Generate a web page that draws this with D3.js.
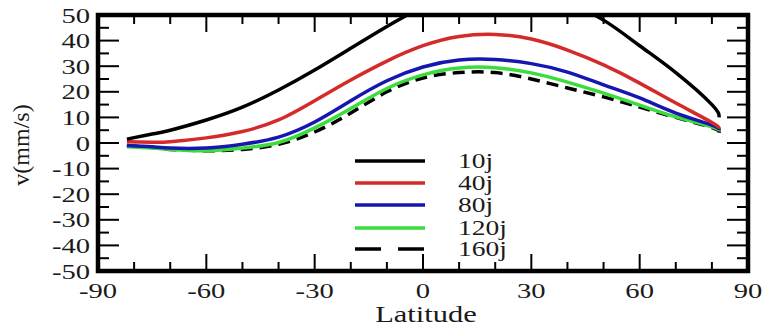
<!DOCTYPE html>
<html>
<head>
<meta charset="utf-8">
<script src="https://cdn.jsdelivr.net/npm/d3@7"></script>
</head>
<body style="margin:0">
<svg id="chart" width="767" height="328"></svg>
<script>
// data
const latitude = [-82, -75, -70, -60, -50, -40, -30, -20, -10, 0, 10, 20, 30, 40, 50, 60, 70, 80, 82];
const v10 = [1.5, 3.5, 5, 9, 14, 20.7, 28.5, 37, 45.5, 53, 57.5, 59, 58, 54.5, 48, 38, 27.5, 15, 10];
const v40 = [0.5, 0.3, 0.5, 2, 4.5, 9, 16.5, 24.6, 32, 38, 41.6, 42.4, 40.6, 36.3, 30.5, 23.4, 15.6, 8, 5.5];
const v80 = [-1, -1.5, -2, -2, -0.5, 2.3, 8.2, 16.5, 24.3, 29.7, 32.4, 32.6, 31, 27.7, 22.7, 17.6, 11.7, 7, 5];
const v120 = [-1.5, -2, -2.5, -3, -2, 0.2, 5.9, 13.5, 21.3, 26.6, 29.3, 29.4, 27.4, 23.8, 19.5, 14.8, 10.2, 6.3, 4.5];
const v160 = [-1, -1.8, -2.5, -3, -2.5, -0.5, 4.3, 11.7, 20, 25.4, 27.5, 27.5, 25, 21.5, 18, 14, 10, 6, 4];
const seriesNames = ["10j", "40j", "80j", "120j", "160j"];
const xTicks = [-90, -60, -30, 0, 30, 60, 90];
const yTicks = [50, 40, 30, 20, 10, 0, -10, -20, -30, -40, -50];

const series = [
  { name: seriesNames[0], values: v10, color: "#000000", dash: null },
  { name: seriesNames[1], values: v40, color: "#d42a2a", dash: null },
  { name: seriesNames[2], values: v80, color: "#1616b0", dash: null },
  { name: seriesNames[3], values: v120, color: "#3cdc3c", dash: null },
  { name: seriesNames[4], values: v160, color: "#000000", dash: "12,7" }
];

const svg = d3.select("#chart");

const x = d3.scaleLinear().domain([-90, 90]).range([98, 748]);
const y = d3.scaleLinear().domain([-50, 50]).range([271, 15]);

// the source image is stretched sideways, so its text is too
function label(px, py, str, anchor, size, sx) {
  return svg.append("text")
    .attr("transform", "translate(" + px + "," + py + ") scale(" + sx + ",1)")
    .attr("text-anchor", anchor)
    .attr("fill", "#1a1a1a")
    .style("font-family", "'Liberation Serif'")
    .style("font-size", size + "px")
    .text(str);
}

svg.append("clipPath").attr("id", "plot-clip")
  .append("rect")
  .attr("x", x(-90)).attr("y", y(50))
  .attr("width", x(90) - x(-90)).attr("height", y(-50) - y(50));

// curves
const line = d3.line()
  .x((d, i) => x(latitude[i]))
  .y(d => y(d))
  .curve(d3.curveNatural);

const curves = svg.append("g").attr("clip-path", "url(#plot-clip)");
curves.selectAll("path")
  .data(series.slice().reverse())
  .enter()
  .append("path")
  .attr("d", d => line(d.values))
  .attr("fill", "none")
  .attr("stroke", d => d.color)
  .attr("stroke-width", 3.5)
  .attr("stroke-dasharray", d => d.dash);

// ticks: major/minor on all four sides
const ticks = svg.append("g").attr("stroke", "#000").attr("stroke-width", 2);
d3.range(-80, 90, 10).forEach(t => {
  const len = t % 30 === 0 ? 17 : 9;
  ticks.append("line").attr("x1", x(t)).attr("x2", x(t)).attr("y1", y(-50)).attr("y2", y(-50) - len);
  ticks.append("line").attr("x1", x(t)).attr("x2", x(t)).attr("y1", y(50)).attr("y2", y(50) + len);
});
d3.range(-45, 50, 5).forEach(t => {
  const len = t % 10 === 0 ? 21 : 11;
  ticks.append("line").attr("x1", x(-90)).attr("x2", x(-90) + len).attr("y1", y(t)).attr("y2", y(t));
  ticks.append("line").attr("x1", x(90)).attr("x2", x(90) - len).attr("y1", y(t)).attr("y2", y(t));
});

// frame
svg.append("rect")
  .attr("x", x(-90)).attr("y", y(50))
  .attr("width", x(90) - x(-90)).attr("height", y(-50) - y(50))
  .attr("fill", "none")
  .attr("stroke", "#000")
  .attr("stroke-width", 4.5);

// tick labels
xTicks.forEach(t => label(x(t), 298, t, "middle", 22, 1.3));
yTicks.forEach(t => label(90, y(t) + 7.5, t, "end", 22, 1.3));

// axis titles
label(426, 322, "Latitude", "middle", 24, 1.27);
svg.append("text")
  .attr("transform", "translate(29,145) rotate(-90)")
  .attr("text-anchor", "middle")
  .attr("fill", "#1a1a1a")
  .style("font-family", "'Liberation Serif'")
  .style("font-size", "24px")
  .text("v(mm/s)");

// legend
const legendY = [161, 183, 205, 228, 249];
series.forEach((s, i) => {
  svg.append("line")
    .attr("x1", 355).attr("x2", 425)
    .attr("y1", legendY[i]).attr("y2", legendY[i])
    .attr("stroke", s.color)
    .attr("stroke-width", 3.5)
    .attr("stroke-dasharray", s.dash ? "26,17" : null);
  label(458, legendY[i] + 7, s.name, "start", 22, 1.25);
});
</script>
</body>
</html>
